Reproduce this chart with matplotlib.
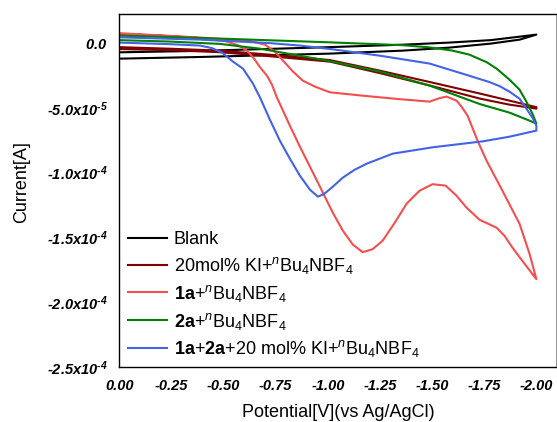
import matplotlib
matplotlib.use("Agg")
import matplotlib.pyplot as plt
import numpy as np

plt.rcParams['font.family'] = ['Liberation Sans', 'DejaVu Sans']
plt.rcParams['mathtext.fontset'] = 'custom'
plt.rcParams['mathtext.rm'] = 'Liberation Sans'
plt.rcParams['mathtext.it'] = 'Liberation Sans:italic'
plt.rcParams['mathtext.bf'] = 'Liberation Sans:bold'
plt.rcParams['mathtext.bfit'] = 'Liberation Sans:italic:bold'
plt.rcParams['axes.unicode_minus'] = False

# potentials in V, currents in uA (forward scan then reverse scan)
blank_v = [0, -0.39, -1.01, -1.36, -1.58, -1.78, -1.92, -2.0,
           -1.92, -1.78, -1.58, -1.36, -1.01, -0.39, 0]
blank_i = [-12.0, -10.7, -8.1, -5.8, -3.5, -0.4, 2.7, 6.6,
           5.0, 2.3, 0.4, -1.2, -3.1, -6.0, -7.1]

ki_v = [0, -0.24, -0.48, -0.72, -1.01, -1.25, -1.49, -1.73, -1.87, -2.0,
        -2.0, -1.87, -1.73, -1.49, -1.25, -1.01, -0.72, -0.48, -0.24, 0]
ki_i = [-4.6, -5.4, -7.0, -10.1, -14.3, -23.2, -32.8, -42.9, -47.5, -50.6,
        -49.5, -44.4, -39.0, -30.1, -21.3, -13.1, -8.9, -5.8, -4.3, -3.1]

s1a_v = [0, -0.196, -0.388, -0.507, -0.569, -0.612, -0.646, -0.675, -0.708, -0.732,
         -0.756, -0.785, -0.818, -0.866, -0.914, -0.962, -1.024, -1.072, -1.120, -1.167,
         -1.215, -1.263, -1.321, -1.378, -1.440, -1.502, -1.565, -1.617, -1.665, -1.727,
         -1.809, -1.847, -1.885, -1.943, -2.0,
         -1.967, -1.919, -1.837, -1.761, -1.718, -1.670, -1.641, -1.617, -1.569, -1.536,
         -1.488, -1.330, -1.167, -1.010, -0.938, -0.880, -0.833, -0.785, -0.746, -0.699,
         -0.627, -0.388, 0]
s1a_i = [7.0, 5.8, 3.9, 1.6, -1.6, -5.8, -12.0, -18.7, -25.1, -32.1,
         -42.1, -52.2, -63.8, -80.0, -95.4, -110.9, -131.1, -144.9, -155.7, -161.5,
         -159.2, -152.6, -138.7, -124.0, -114.0, -109.0, -110.1, -117.9, -127.1, -136.4,
         -142.6, -148.8, -158.0, -170.4, -182.4,
         -162.7, -139.5, -114.0, -90.8, -75.4, -56.0, -49.1, -44.4, -41.3, -42.5,
         -45.2, -43.1, -40.6, -38.0, -33.6, -29.0, -22.0, -13.5, -6.6, -1.2,
         1.6, 4.3, 7.7]

s2a_v = [0, -0.244, -0.483, -0.675, -1.010, -1.249, -1.488, -1.727, -1.871, -1.967, -2.0,
         -1.981, -1.952, -1.919, -1.871, -1.809, -1.761, -1.679, -1.598, -1.488, -1.359,
         -1.010, -0.483, 0]
s2a_i = [2.3, 1.2, -0.6, -4.3, -13.9, -22.0, -32.8, -47.0, -53.7, -59.9, -62.2,
         -54.5, -45.2, -35.9, -28.2, -19.7, -14.7, -8.9, -5.8, -3.3, -1.6,
         0.6, 3.5, 5.8]

mix_v = [0, -0.244, -0.388, -0.445, -0.493, -0.545, -0.593, -0.641, -0.675, -0.722,
         -0.770, -0.818, -0.866, -0.914, -0.952, -0.981, -1.024, -1.072, -1.129, -1.187,
         -1.311, -1.502, -1.742, -1.871, -2.0,
         -2.0, -1.981, -1.952, -1.919, -1.871, -1.823, -1.775, -1.646, -1.488, -1.249,
         -1.010, -0.866, -0.722, -0.388, 0]
mix_i = [0.4, -0.8, -1.9, -3.9, -7.3, -14.3, -19.7, -31.3, -42.1, -59.1,
         -75.4, -89.3, -102.4, -113.2, -118.6, -116.7, -110.9, -103.9, -97.8, -93.1,
         -85.4, -80.5, -75.9, -72.3, -67.6,
         -63.8, -57.6, -50.6, -42.9, -37.5, -33.2, -30.1, -23.6, -15.8, -9.7,
         -4.5, -1.9, 0.0, 2.7, 4.5]

labels = ['Blank',
          r'20mol% KI+$^{\mathit{n}}$Bu$_4$NBF$_4$',
          r'$\mathbf{1a}$+$^{\mathit{n}}$Bu$_4$NBF$_4$',
          r'$\mathbf{2a}$+$^{\mathit{n}}$Bu$_4$NBF$_4$',
          r'$\mathbf{1a}$+$\mathbf{2a}$+20 mol% KI+$^{\mathit{n}}$Bu$_4$NBF$_4$']
colors = ['black', '#800000', '#f44f4f', '#008000', '#4363e6']

xticks = [0, -0.25, -0.5, -0.75, -1.0, -1.25, -1.5, -1.75, -2.0]
xticklabels = ['0.00', '-0.25', '-0.50', '-0.75', '-1.00', '-1.25', '-1.50', '-1.75', '-2.00']
yticks = [0, -5e-5, -1e-4, -1.5e-4, -2e-4, -2.5e-4]
yticklabels = ['$\\mathbfit{0.0}$',
               '$\\mathbfit{\u20105.0x10^{\u20105}}$',
               '$\\mathbfit{\u20101.0x10^{\u20104}}$',
               '$\\mathbfit{\u20101.5x10^{\u20104}}$',
               '$\\mathbfit{\u20102.0x10^{\u20104}}$',
               '$\\mathbfit{\u20102.5x10^{\u20104}}$']

fig = plt.figure(figsize=(5.57, 4.22), dpi=100)
ax = fig.add_axes([119.3 / 557, 1 - 366.7 / 422, (556 - 119.3) / 557, (366.7 - 14) / 422])

curves = [(blank_v, blank_i), (ki_v, ki_i), (s1a_v, s1a_i), (s2a_v, s2a_i), (mix_v, mix_i)]
for (v, i), c, lab in zip(curves, colors, labels):
    ax.plot(v, np.array(i) * 1e-6, color=c, lw=1.5, label=lab, solid_joinstyle='round')

ax.set_xlim(0.0, -2.094)
ax.set_ylim(-2.5e-4, 2.25e-5)
ax.set_xticks(xticks)
ax.set_xticklabels(xticklabels, fontsize=10.5, fontweight='bold', fontstyle='italic')
ax.set_yticks(yticks)
ax.set_yticklabels(yticklabels, fontsize=10.5)
ax.tick_params(axis='both', length=0)
ax.tick_params(axis='x', pad=9)
ax.tick_params(axis='y', pad=8.5)
for s in ['left', 'top', 'bottom']:
    ax.spines[s].set_linewidth(1.0)
ax.spines['right'].set_linewidth(0.8)
ax.spines['right'].set_color('#999999')

fig.text(21.5 / 557, 1 - 182 / 422, 'Current[A]', rotation=90, ha='center', va='center', fontsize=13)
fig.text(338.3 / 557, 1 - 412.5 / 422, 'Potential[V](vs Ag/AgCl)', ha='center', va='center', fontsize=13)

ax.legend(loc='upper left', bbox_to_anchor=(127.7 / 557, 1 - 231 / 422), bbox_transform=fig.transFigure,
          frameon=False, fontsize=13, borderpad=0, borderaxespad=0, handlelength=2.2,
          handletextpad=0.35, labelspacing=0.38)

fig.savefig('out.png', dpi=100)
